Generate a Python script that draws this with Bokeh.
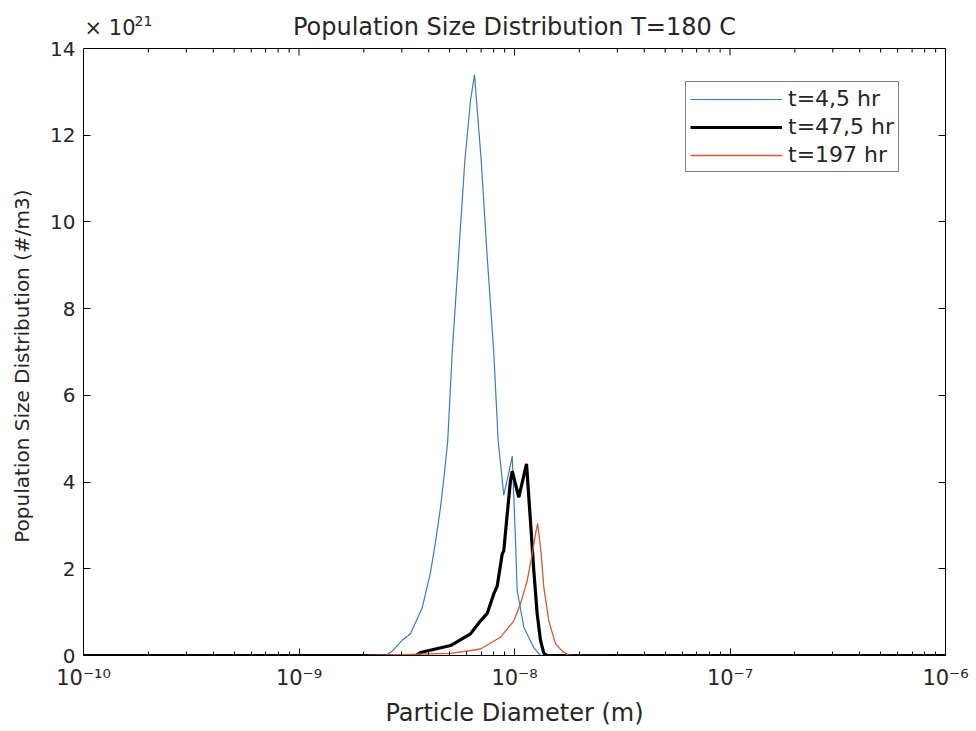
from bokeh.plotting import figure
from bokeh.models import (Range1d, FixedTicker, LinearAxis, Label, Span,
                          CustomJSTickFormatter)
from bokeh.embed import file_html
from bokeh.resources import INLINE

# ---- data (particle diameter in m, population size distribution in 1e21 #/m3) ----
diam_t4_5 = [1e-10, 2.52e-9, 2.71e-9, 3.01e-9, 3.29e-9, 3.73e-9, 4.07e-9, 4.31e-9,
             4.53e-9, 4.73e-9, 4.90e-9, 5.14e-9, 5.50e-9, 5.88e-9, 6.25e-9, 6.52e-9,
             7.01e-9, 7.47e-9, 8.01e-9, 8.40e-9, 8.92e-9, 9.30e-9, 9.76e-9, 1.011e-8,
             1.029e-8, 1.105e-8, 1.229e-8, 1.32e-8, 1e-6]
psd_t4_5 = [0, 0, 0.1, 0.35, 0.5, 1.1, 1.9, 2.65,
            3.4, 4.2, 4.95, 7.0, 9.2, 11.4, 12.8, 13.4,
            11.4, 9.2, 7.0, 4.95, 3.7, 4.1, 4.6, 2.65,
            1.5, 0.65, 0.18, 0, 0]

diam_t47_5 = [1e-10, 3.5e-9, 3.66e-9, 5.05e-9, 6.25e-9, 6.96e-9, 7.47e-9, 8.01e-9,
              8.31e-9, 8.77e-9, 8.92e-9, 9.25e-9, 9.58e-9, 9.76e-9, 1.047e-8, 1.137e-8,
              1.186e-8, 1.229e-8, 1.274e-8, 1.32e-8, 1.368e-8, 1.42e-8, 1e-6]
psd_t47_5 = [0, 0, 0.07, 0.23, 0.5, 0.8, 0.97, 1.42,
             1.6, 2.34, 2.42, 3.26, 4.03, 4.25, 3.65, 4.42,
             3.1, 1.96, 0.96, 0.35, 0.05, 0, 0]

diam_t197 = [2.08e-9, 5.05e-9, 6.96e-9, 8.60e-9, 9.93e-9, 1.066e-8, 1.146e-8, 1.208e-8,
             1.251e-8, 1.281e-8, 1.330e-8, 1.368e-8, 1.443e-8, 1.550e-8, 1.665e-8,
             1.80e-8, 2.70e-8]
psd_t197 = [0, 0.05, 0.15, 0.42, 0.8, 1.19, 1.73, 2.34,
            2.8, 3.05, 2.34, 1.57, 0.8, 0.27, 0.1,
            0, 0]

series_labels = ["t=4,5 hr", "t=47,5 hr", "t=197 hr"]
series_colors = ["#3b7bc2", "black", "#d45a32"]
x_major = [1e-10, 1e-9, 1e-8, 1e-7, 1e-6]
y_major = [0, 2, 4, 6, 8, 10, 12, 14]
y_top = 14
title_text = "Population Size Distribution T=180 C"
x_title = "Particle Diameter (m)"
y_title = "Population Size Distribution (#/m3)"

FONT = "DejaVu Sans"
TXT = "#262626"

# layout (pixels)
W, H = 976, 731
LEFT, RIGHT, BOTTOM = 83, 31, 76
BOX_TOP = 48                       # canvas y of the axes box top edge
frame_h = H - BOTTOM               # frame runs up to the canvas top
box_h = frame_h - BOX_TOP
y_max = y_top * frame_h / box_h    # range so that y_top sits at BOX_TOP
px = y_max / frame_h               # data units per pixel

x_minor = [k * 10.0 ** e for e in range(-10, -6) for k in range(2, 10)]
xticker = FixedTicker(ticks=x_major, minor_ticks=x_minor)
yticker = FixedTicker(ticks=y_major)

p = figure(width=W, height=H, x_axis_type="log",
           x_range=Range1d(1e-10, 1e-6), y_range=Range1d(0, y_max),
           output_backend="svg", toolbar_location=None,
           min_border_left=LEFT, min_border_right=RIGHT,
           min_border_top=0, min_border_bottom=BOTTOM)

p.grid.visible = False
p.outline_line_color = None
p.background_fill_color = "white"
p.border_fill_color = "white"

sup_code = """
const e = Math.round(Math.log10(tick));
const sup = {'-':'\u207b','0':'\u2070','1':'\u00b9','2':'\u00b2','3':'\u00b3','4':'\u2074',
             '5':'\u2075','6':'\u2076','7':'\u2077','8':'\u2078','9':'\u2079'};
return '10' + String(e).split('').map(c => sup[c]).join('');
"""

xa = p.xaxis[0]
xa.ticker = xticker
xa.formatter = CustomJSTickFormatter(code=sup_code)
ya = p.yaxis[0]
ya.ticker = yticker
ya.bounds = (0, y_top)

for ax in (xa, ya):
    ax.axis_line_color = "black"
    ax.major_tick_line_color = "black"
    ax.minor_tick_line_color = "black"
    ax.major_tick_in = 7
    ax.major_tick_out = 0
    ax.minor_tick_in = 4
    ax.minor_tick_out = 0
    ax.major_label_text_font = FONT
    ax.major_label_text_color = TXT
    ax.major_label_text_font_size = "20px"
    ax.axis_label_text_font = FONT
    ax.axis_label_text_color = TXT
    ax.axis_label_text_font_style = "normal"

xa.major_label_text_font_size = "21px"
xa.axis_label = x_title
xa.axis_label_text_font_size = "24px"
xa.major_label_standoff = 10
xa.axis_label_standoff = 6
# the axis label is centred on the whole frame (which reaches the canvas top);
# trailing no-break spaces move the visible words down to the centre of the box
ya.axis_label = y_title + "\u00a0" * 12
ya.axis_label_text_font_size = "20px"
ya.major_label_standoff = 8
ya.axis_label_standoff = 13

right = LinearAxis(ticker=yticker, major_label_text_font_size="0px",
                   major_tick_in=7, major_tick_out=0, minor_tick_out=0,
                   axis_line_color="black", bounds=(0, y_top))
right.formatter = CustomJSTickFormatter(code="return '';")
p.add_layout(right, "right")

# top edge of the axes box and its inward ticks
p.add_layout(Span(location=y_top, dimension="width", line_color="black", line_width=1))
p.segment(x0=x_major, y0=[y_top] * len(x_major), x1=x_major,
          y1=[y_top - 7 * px] * len(x_major), line_color="black", line_width=1)
p.segment(x0=x_minor, y0=[y_top] * len(x_minor), x1=x_minor,
          y1=[y_top - 4 * px] * len(x_minor), line_color="black", line_width=1)

r1 = p.line(diam_t4_5, psd_t4_5, line_color=series_colors[0], line_width=1.2,
            line_alpha=1.0, legend_label=series_labels[0])
r2 = p.line(diam_t47_5, psd_t47_5, line_color=series_colors[1], line_width=3.2,
            line_alpha=1.0, legend_label=series_labels[1])
r3 = p.line(diam_t197, psd_t197, line_color=series_colors[2], line_width=1.3,
            line_alpha=1.0, legend_label=series_labels[2])

legend = p.legend[0]
legend.location = (602, 483)
legend.glyph_width = 92
legend.glyph_height = 22
legend.label_height = 22
legend.label_standoff = 6
legend.spacing = 3
legend.padding = 4
legend.margin = 0
legend.border_line_color = "black"
legend.border_line_width = 1
legend.background_fill_color = "white"
legend.background_fill_alpha = 1
legend.label_text_font = FONT
legend.label_text_font_size = "22px"
legend.label_text_color = TXT

# texts above the box (screen units are measured from the frame's bottom-left)
fw = W - LEFT - RIGHT
p.add_layout(Label(x=fw / 2, y=frame_h - 26, x_units="screen", y_units="screen",
                   text=title_text, text_font=FONT, text_font_size="24px",
                   text_color=TXT, text_baseline="alphabetic", text_align="center"))
p.add_layout(Label(x=1, y=frame_h - 27, x_units="screen", y_units="screen", text="\u00d7 10",
                   text_font=FONT, text_font_size="21px", text_color=TXT,
                   text_baseline="alphabetic", text_align="left"))
p.add_layout(Label(x=51, y=frame_h - 20, x_units="screen", y_units="screen", text="21",
                   text_font=FONT, text_font_size="14px", text_color=TXT,
                   text_baseline="alphabetic", text_align="left"))

open("out.html", "w").write(file_html(p, INLINE))
